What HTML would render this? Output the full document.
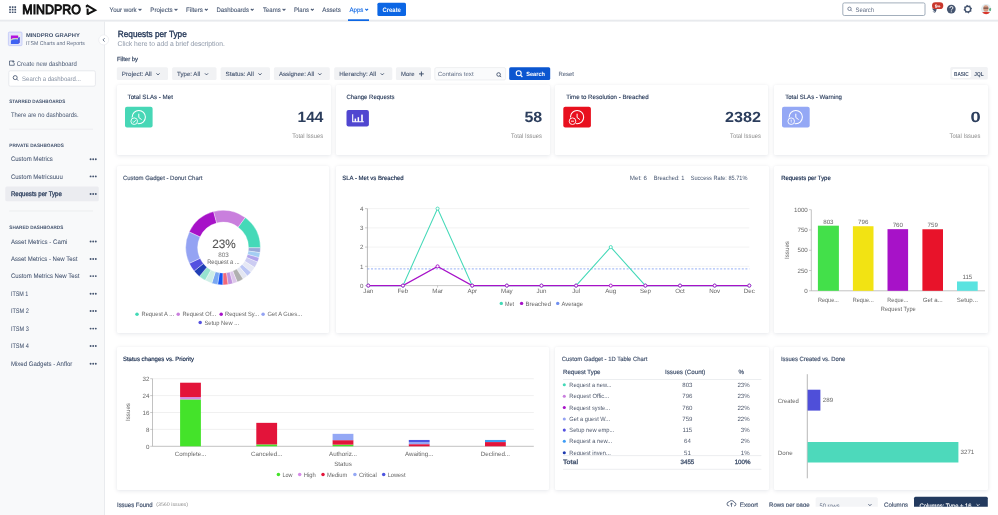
<!DOCTYPE html>
<html><head><meta charset="utf-8"><style>
html,body{margin:0;padding:0;width:998px;height:515px;overflow:hidden;background:#fff;}
#root{position:relative;width:998px;height:515px;overflow:hidden;font-family:"Liberation Sans",sans-serif;}
svg text{font-family:"Liberation Sans",sans-serif;text-rendering:geometricPrecision;}
</style></head><body><div id="root">
<div style="position:absolute;left:0px;top:0px;width:998px;height:20px;background:#fff;"></div><div style="position:absolute;left:0px;top:21px;width:104px;height:494px;background:#f8f9fa;"></div><div style="position:absolute;left:104px;top:21px;width:1px;height:494px;background:#e9ebee;"></div><div style="position:absolute;left:105px;top:21px;width:893px;height:494px;background:#fff;"></div><div style="position:absolute;left:116.6px;top:85.3px;width:214.1px;height:69.7px;background:#fff;border-radius:1px;box-shadow:0 1px 4px rgba(9,30,66,0.10),0 0 1px rgba(9,30,66,0.06);"></div><div style="position:absolute;left:336px;top:85.3px;width:213.5px;height:69.7px;background:#fff;border-radius:1px;box-shadow:0 1px 4px rgba(9,30,66,0.10),0 0 1px rgba(9,30,66,0.06);"></div><div style="position:absolute;left:555px;top:85.3px;width:213.39999999999998px;height:69.7px;background:#fff;border-radius:1px;box-shadow:0 1px 4px rgba(9,30,66,0.10),0 0 1px rgba(9,30,66,0.06);"></div><div style="position:absolute;left:774.1px;top:85.3px;width:213.89999999999998px;height:69.7px;background:#fff;border-radius:1px;box-shadow:0 1px 4px rgba(9,30,66,0.10),0 0 1px rgba(9,30,66,0.06);"></div><div style="position:absolute;left:116.6px;top:166px;width:212.6px;height:167px;background:#fff;border-radius:1px;box-shadow:0 1px 4px rgba(9,30,66,0.10),0 0 1px rgba(9,30,66,0.06);"></div><div style="position:absolute;left:336px;top:166px;width:433px;height:167px;background:#fff;border-radius:1px;box-shadow:0 1px 4px rgba(9,30,66,0.10),0 0 1px rgba(9,30,66,0.06);"></div><div style="position:absolute;left:774.1px;top:166px;width:213.89999999999998px;height:167px;background:#fff;border-radius:1px;box-shadow:0 1px 4px rgba(9,30,66,0.10),0 0 1px rgba(9,30,66,0.06);"></div><div style="position:absolute;left:116.6px;top:346.5px;width:432.9px;height:143.0px;background:#fff;border-radius:1px;box-shadow:0 1px 4px rgba(9,30,66,0.10),0 0 1px rgba(9,30,66,0.06);"></div><div style="position:absolute;left:555px;top:346.5px;width:214px;height:143.0px;background:#fff;border-radius:1px;box-shadow:0 1px 4px rgba(9,30,66,0.10),0 0 1px rgba(9,30,66,0.06);"></div><div style="position:absolute;left:774.1px;top:346.5px;width:213.89999999999998px;height:143.0px;background:#fff;border-radius:1px;box-shadow:0 1px 4px rgba(9,30,66,0.10),0 0 1px rgba(9,30,66,0.06);"></div>
<svg width="998" height="515" viewBox="0 0 998 515" style="position:absolute;left:0;top:0;will-change:transform;">
<defs><linearGradient id="hb" x1="0" y1="0" x2="0" y2="1"><stop offset="0" stop-color="#eef0f2"/><stop offset="0.5" stop-color="#e6e8ec"/><stop offset="1" stop-color="#f2f3f5" stop-opacity="0.6"/></linearGradient></defs><rect x="0" y="19.6" width="998" height="2.4" fill="url(#hb)"/>
<rect x="9.20" y="6.20" width="1.70" height="1.70" fill="#44546f" rx="0.3" />
<rect x="9.20" y="8.80" width="1.70" height="1.70" fill="#44546f" rx="0.3" />
<rect x="9.20" y="11.40" width="1.70" height="1.70" fill="#44546f" rx="0.3" />
<rect x="11.80" y="6.20" width="1.70" height="1.70" fill="#44546f" rx="0.3" />
<rect x="11.80" y="8.80" width="1.70" height="1.70" fill="#44546f" rx="0.3" />
<rect x="11.80" y="11.40" width="1.70" height="1.70" fill="#44546f" rx="0.3" />
<rect x="14.40" y="6.20" width="1.70" height="1.70" fill="#44546f" rx="0.3" />
<rect x="14.40" y="8.80" width="1.70" height="1.70" fill="#44546f" rx="0.3" />
<rect x="14.40" y="11.40" width="1.70" height="1.70" fill="#44546f" rx="0.3" />
<text x="22.30" y="14.00" font-size="13.4" fill="#111" stroke="#111" stroke-width="0.95" textLength="58.60" lengthAdjust="spacingAndGlyphs" >MINDPRO</text>
<path d="M86.6 5.2 L95.2 10.2 L87.6 14.2" fill="none" stroke="#111" stroke-width="2.0" stroke-linejoin="miter"/><path d="M87.6 8.6 V14.8" fill="none" stroke="#111" stroke-width="2.0"/><path d="M86.6 5.2 V7.4" fill="none" stroke="#111" stroke-width="1.6"/>
<text x="109.60" y="11.60" font-size="6.4" fill="#44546f" stroke="#44546f" stroke-width="0.1" textLength="27.10" lengthAdjust="spacingAndGlyphs" >Your work</text>
<path d="M138.60 8.8 L140.00 10.2 L141.40 8.8" fill="none" stroke="#44546f" stroke-width="1.05"/>
<text x="150.30" y="11.60" font-size="6.4" fill="#44546f" stroke="#44546f" stroke-width="0.1" textLength="22.40" lengthAdjust="spacingAndGlyphs" >Projects</text>
<path d="M174.60 8.8 L176.00 10.2 L177.40 8.8" fill="none" stroke="#44546f" stroke-width="1.05"/>
<text x="186.00" y="11.60" font-size="6.4" fill="#44546f" stroke="#44546f" stroke-width="0.1" textLength="17.00" lengthAdjust="spacingAndGlyphs" >Filters</text>
<path d="M204.90 8.8 L206.30 10.2 L207.70 8.8" fill="none" stroke="#44546f" stroke-width="1.05"/>
<text x="216.50" y="11.60" font-size="6.4" fill="#44546f" stroke="#44546f" stroke-width="0.1" textLength="32.40" lengthAdjust="spacingAndGlyphs" >Dashboards</text>
<path d="M250.80 8.8 L252.20 10.2 L253.60 8.8" fill="none" stroke="#44546f" stroke-width="1.05"/>
<text x="263.00" y="11.60" font-size="6.4" fill="#44546f" stroke="#44546f" stroke-width="0.1" textLength="17.70" lengthAdjust="spacingAndGlyphs" >Teams</text>
<path d="M282.60 8.8 L284.00 10.2 L285.40 8.8" fill="none" stroke="#44546f" stroke-width="1.05"/>
<text x="294.00" y="11.60" font-size="6.4" fill="#44546f" stroke="#44546f" stroke-width="0.1" textLength="15.00" lengthAdjust="spacingAndGlyphs" >Plans</text>
<path d="M310.90 8.8 L312.30 10.2 L313.70 8.8" fill="none" stroke="#44546f" stroke-width="1.05"/>
<text x="322.30" y="11.60" font-size="6.4" fill="#44546f" stroke="#44546f" stroke-width="0.1" textLength="18.60" lengthAdjust="spacingAndGlyphs" >Assets</text>
<text x="349.40" y="11.60" font-size="6.4" fill="#0c66e4" stroke="#0c66e4" stroke-width="0.1" textLength="14.00" lengthAdjust="spacingAndGlyphs" >Apps</text>
<path d="M365.30 8.8 L366.70 10.2 L368.10 8.8" fill="none" stroke="#0c66e4" stroke-width="1.05"/>
<rect x="348.00" y="19.30" width="21.00" height="1.70" fill="#0c66e4" rx="0" />
<rect x="377.40" y="2.80" width="28.60" height="13.20" fill="#0c66e4" rx="1.5" />
<text x="391.70" y="11.70" font-size="6.4" fill="#fff" font-weight="bold" text-anchor="middle" textLength="18.40" lengthAdjust="spacingAndGlyphs" >Create</text>
<rect x="842.8" y="2.9" width="82.2" height="12.6" rx="1.5" fill="#fff" stroke="#8c9bab" stroke-width="0.8"/>
<circle cx="849.5" cy="8.8" r="1.7" fill="none" stroke="#626f86" stroke-width="0.8"/><line x1="850.8" y1="10.1" x2="852" y2="11.3" stroke="#626f86" stroke-width="0.8"/>
<text x="855.50" y="11.60" font-size="6.4" fill="#626f86" textLength="18.50" lengthAdjust="spacingAndGlyphs" >Search</text>
<path d="M931.8 8.6 L936.8 9.2 L935.4 12.6 Z" fill="#44546f"/><path d="M933.2 11.4 L934.6 12.8" stroke="#44546f" stroke-width="0.9"/>
<rect x="932" y="2.2" width="11.3" height="6.9" rx="3.45" fill="#c9372c"/>
<text x="937.65" y="7.50" font-size="5.0" fill="#fff" font-weight="bold" text-anchor="middle" textLength="6.00" lengthAdjust="spacingAndGlyphs" >9+</text>
<circle cx="951.3" cy="9.1" r="4.4" fill="#44546f"/>
<path d="M949.9 8.1 Q949.9 6.5 951.4 6.5 Q952.9 6.5 952.9 7.9 Q952.9 8.8 951.9 9.3 Q951.3 9.6 951.3 10.4" fill="none" stroke="#fff" stroke-width="0.95"/><circle cx="951.3" cy="11.8" r="0.55" fill="#fff"/>
<polygon points="972.12,8.24 971.23,9.78 971.46,11.54 969.74,12.01 968.66,13.42 967.12,12.53 965.36,12.76 964.89,11.04 963.48,9.96 964.37,8.42 964.14,6.66 965.86,6.19 966.94,4.78 968.48,5.67 970.24,5.44 970.71,7.16" fill="#44546f"/><circle cx="967.8" cy="9.1" r="2.2" fill="#fff"/>
<defs><clipPath id="av"><circle cx="986.1" cy="9.1" r="5.1"/></clipPath></defs>
<g clip-path="url(#av)"><rect x="980" y="3" width="12" height="12" fill="#e3ecef"/><circle cx="990.5" cy="9.5" r="1.6" fill="#5fb08a"/><path d="M981 15 Q981 11.8 986 11.8 Q991 11.8 991 15 Z" fill="#d9352a"/><ellipse cx="985.9" cy="8.4" rx="2.6" ry="3.2" fill="#d39a82"/><rect x="983.5" y="7.6" width="4.8" height="1" fill="#5a3b33"/></g>
<rect x="8.4" y="32.1" width="13.6" height="13.5" rx="1" fill="#e3e6fb" stroke="#b9c2f7" stroke-width="0.7"/>
<path d="M10.9 35.6 H18.2 V38.3 Q14.5 37.2 10.9 39.2 Z" fill="#b312dc"/>
<path d="M10.9 39.2 Q14.5 37.2 18.2 38.3 V39.6 Q14.5 38.6 10.9 40.6 Z" fill="#c9cbbf"/>
<path d="M10.9 40.6 Q14.5 38.6 18.2 39.6 V44 H10.9 Z" fill="#3f63f2"/>
<path d="M18.2 37.8 L19.7 37 V42.8 L18.2 44 Z" fill="#2f3ad8"/>
<circle cx="19.4" cy="35.1" r="1.1" fill="#f3f1d6"/>
<text x="25.90" y="36.90" font-size="5.5" fill="#44546f" font-weight="bold" textLength="53.90" lengthAdjust="spacingAndGlyphs" >MINDPRO GRAPHY</text>
<text x="25.90" y="45.00" font-size="5.6" fill="#626f86" textLength="58.90" lengthAdjust="spacingAndGlyphs" >ITSM Charts and Reports</text>
<circle cx="103.7" cy="39.9" r="5" fill="#fff" stroke="#e6e8ec" stroke-width="0.6"/>
<path d="M104.6 38.2 L103 39.9 L104.6 41.6" fill="none" stroke="#44546f" stroke-width="0.8"/>
<path d="M13.5 61 L9.5 61 L9.5 65.3 L14.2 65.3 L14.2 63" fill="none" stroke="#44546f" stroke-width="0.75"/><path d="M13.3 60.5 L13.3 62.8 M12.2 61.6 L14.5 61.6" stroke="#44546f" stroke-width="0.7"/>
<text x="16.75" y="65.50" font-size="6.7" fill="#44546f" textLength="60.10" lengthAdjust="spacingAndGlyphs" >Create new dashboard</text>
<rect x="8.8" y="70.8" width="86.6" height="15.4" rx="1.5" fill="#fff" stroke="#dfe1e6" stroke-width="0.7"/>
<circle cx="15.2" cy="77.6" r="2" fill="none" stroke="#44546f" stroke-width="0.85"/><line x1="16.7" y1="79.1" x2="18.1" y2="80.5" stroke="#44546f" stroke-width="0.85"/>
<text x="22.10" y="81.00" font-size="6.6" fill="#8590a2" textLength="58.80" lengthAdjust="spacingAndGlyphs" >Search a dashboard...</text>
<text x="9.30" y="103.40" font-size="4.9" fill="#44546f" font-weight="bold" textLength="55.90" lengthAdjust="spacingAndGlyphs" >STARRED DASHBOARDS</text>
<text x="10.90" y="117.40" font-size="6.6" fill="#44546f" textLength="67.70" lengthAdjust="spacingAndGlyphs" >There are no dashboards.</text>
<line x1="9.30" y1="129.20" x2="93.00" y2="129.20" stroke="#e4e6ea" stroke-width="0.6" />
<text x="9.30" y="146.60" font-size="4.9" fill="#44546f" font-weight="bold" textLength="54.50" lengthAdjust="spacingAndGlyphs" >PRIVATE DASHBOARDS</text>
<rect x="5.30" y="186.60" width="93.50" height="14.60" fill="#ebecf0" rx="1.5" />
<text x="10.90" y="161.30" font-size="6.6" fill="#44546f" stroke="#44546f" stroke-width="0.04" textLength="41.90" lengthAdjust="spacingAndGlyphs" >Custom Metrics</text>
<circle cx="90.60" cy="159.20" r="0.95" fill="#44546f"/>
<circle cx="93.20" cy="159.20" r="0.95" fill="#44546f"/>
<circle cx="95.80" cy="159.20" r="0.95" fill="#44546f"/>
<text x="10.90" y="178.50" font-size="6.6" fill="#44546f" stroke="#44546f" stroke-width="0.04" textLength="51.90" lengthAdjust="spacingAndGlyphs" >Custom Metricsuuu</text>
<circle cx="90.60" cy="176.40" r="0.95" fill="#44546f"/>
<circle cx="93.20" cy="176.40" r="0.95" fill="#44546f"/>
<circle cx="95.80" cy="176.40" r="0.95" fill="#44546f"/>
<text x="10.90" y="196.10" font-size="6.6" fill="#2c3e5d" stroke="#2c3e5d" stroke-width="0.3" textLength="51.00" lengthAdjust="spacingAndGlyphs" >Requests per Type</text>
<circle cx="90.60" cy="194.00" r="0.95" fill="#44546f"/>
<circle cx="93.20" cy="194.00" r="0.95" fill="#44546f"/>
<circle cx="95.80" cy="194.00" r="0.95" fill="#44546f"/>
<line x1="9.30" y1="211.00" x2="93.00" y2="211.00" stroke="#e4e6ea" stroke-width="0.6" />
<text x="9.30" y="228.60" font-size="4.9" fill="#44546f" font-weight="bold" textLength="54.00" lengthAdjust="spacingAndGlyphs" >SHARED DASHBOARDS</text>
<text x="10.90" y="243.60" font-size="6.6" fill="#44546f" stroke="#44546f" stroke-width="0.04" textLength="56.50" lengthAdjust="spacingAndGlyphs" >Asset Metrics - Cami</text>
<circle cx="90.60" cy="241.50" r="0.95" fill="#44546f"/>
<circle cx="93.20" cy="241.50" r="0.95" fill="#44546f"/>
<circle cx="95.80" cy="241.50" r="0.95" fill="#44546f"/>
<text x="10.90" y="261.10" font-size="6.6" fill="#44546f" stroke="#44546f" stroke-width="0.04" textLength="66.50" lengthAdjust="spacingAndGlyphs" >Asset Metrics - New Test</text>
<circle cx="90.60" cy="259.00" r="0.95" fill="#44546f"/>
<circle cx="93.20" cy="259.00" r="0.95" fill="#44546f"/>
<circle cx="95.80" cy="259.00" r="0.95" fill="#44546f"/>
<text x="10.90" y="278.20" font-size="6.6" fill="#44546f" stroke="#44546f" stroke-width="0.04" textLength="68.50" lengthAdjust="spacingAndGlyphs" >Custom Metrics New Test</text>
<circle cx="90.60" cy="276.10" r="0.95" fill="#44546f"/>
<circle cx="93.20" cy="276.10" r="0.95" fill="#44546f"/>
<circle cx="95.80" cy="276.10" r="0.95" fill="#44546f"/>
<text x="10.90" y="295.90" font-size="6.6" fill="#44546f" stroke="#44546f" stroke-width="0.04" textLength="17.50" lengthAdjust="spacingAndGlyphs" >ITSM 1</text>
<circle cx="90.60" cy="293.80" r="0.95" fill="#44546f"/>
<circle cx="93.20" cy="293.80" r="0.95" fill="#44546f"/>
<circle cx="95.80" cy="293.80" r="0.95" fill="#44546f"/>
<text x="10.90" y="313.10" font-size="6.6" fill="#44546f" stroke="#44546f" stroke-width="0.04" textLength="18.00" lengthAdjust="spacingAndGlyphs" >ITSM 2</text>
<circle cx="90.60" cy="311.00" r="0.95" fill="#44546f"/>
<circle cx="93.20" cy="311.00" r="0.95" fill="#44546f"/>
<circle cx="95.80" cy="311.00" r="0.95" fill="#44546f"/>
<text x="10.90" y="330.70" font-size="6.6" fill="#44546f" stroke="#44546f" stroke-width="0.04" textLength="18.00" lengthAdjust="spacingAndGlyphs" >ITSM 3</text>
<circle cx="90.60" cy="328.60" r="0.95" fill="#44546f"/>
<circle cx="93.20" cy="328.60" r="0.95" fill="#44546f"/>
<circle cx="95.80" cy="328.60" r="0.95" fill="#44546f"/>
<text x="10.90" y="348.10" font-size="6.6" fill="#44546f" stroke="#44546f" stroke-width="0.04" textLength="18.00" lengthAdjust="spacingAndGlyphs" >ITSM 4</text>
<circle cx="90.60" cy="346.00" r="0.95" fill="#44546f"/>
<circle cx="93.20" cy="346.00" r="0.95" fill="#44546f"/>
<circle cx="95.80" cy="346.00" r="0.95" fill="#44546f"/>
<text x="10.90" y="365.80" font-size="6.6" fill="#44546f" stroke="#44546f" stroke-width="0.04" textLength="61.50" lengthAdjust="spacingAndGlyphs" >Mixed Gadgets - Anflor</text>
<circle cx="90.60" cy="363.70" r="0.95" fill="#44546f"/>
<circle cx="93.20" cy="363.70" r="0.95" fill="#44546f"/>
<circle cx="95.80" cy="363.70" r="0.95" fill="#44546f"/>
<text x="117.80" y="36.90" font-size="9.0" fill="#253858" stroke="#253858" stroke-width="0.35" textLength="69.00" lengthAdjust="spacingAndGlyphs" >Requests per Type</text>
<text x="117.60" y="45.80" font-size="6.9" fill="#97a0af" stroke="#97a0af" stroke-width="0.05" textLength="107.20" lengthAdjust="spacingAndGlyphs" >Click here to add a brief description.</text>
<text x="117.00" y="61.30" font-size="5.9" fill="#44546f" stroke="#44546f" stroke-width="0.25" textLength="21.00" lengthAdjust="spacingAndGlyphs" >Filter by</text>
<rect x="116.80" y="67.30" width="51.20" height="12.60" fill="#f1f2f4" rx="1.5" />
<text x="121.80" y="76.10" font-size="6.0" fill="#44546f" stroke="#44546f" stroke-width="0.1" textLength="29.90" lengthAdjust="spacingAndGlyphs" >Project: All</text>
<path d="M156.50 73.4 L158.00 74.9 L159.50 73.4" fill="none" stroke="#44546f" stroke-width="1"/>
<rect x="172.10" y="67.30" width="44.40" height="12.60" fill="#f1f2f4" rx="1.5" />
<text x="177.10" y="76.10" font-size="6.0" fill="#44546f" stroke="#44546f" stroke-width="0.1" textLength="23.00" lengthAdjust="spacingAndGlyphs" >Type: All</text>
<path d="M205.00 73.4 L206.50 74.9 L208.00 73.4" fill="none" stroke="#44546f" stroke-width="1"/>
<rect x="220.60" y="67.30" width="49.40" height="12.60" fill="#f1f2f4" rx="1.5" />
<text x="225.60" y="76.10" font-size="6.0" fill="#44546f" stroke="#44546f" stroke-width="0.1" textLength="28.30" lengthAdjust="spacingAndGlyphs" >Status: All</text>
<path d="M258.50 73.4 L260.00 74.9 L261.50 73.4" fill="none" stroke="#44546f" stroke-width="1"/>
<rect x="273.90" y="67.30" width="55.90" height="12.60" fill="#f1f2f4" rx="1.5" />
<text x="278.90" y="76.10" font-size="6.0" fill="#44546f" stroke="#44546f" stroke-width="0.1" textLength="35.30" lengthAdjust="spacingAndGlyphs" >Assignee: All</text>
<path d="M318.30 73.4 L319.80 74.9 L321.30 73.4" fill="none" stroke="#44546f" stroke-width="1"/>
<rect x="334.20" y="67.30" width="58.10" height="12.60" fill="#f1f2f4" rx="1.5" />
<text x="339.20" y="76.10" font-size="6.0" fill="#44546f" stroke="#44546f" stroke-width="0.1" textLength="36.90" lengthAdjust="spacingAndGlyphs" >Hierarchy: All</text>
<path d="M380.80 73.4 L382.30 74.9 L383.80 73.4" fill="none" stroke="#44546f" stroke-width="1"/>
<rect x="395.90" y="67.30" width="35.10" height="12.60" fill="#f1f2f4" rx="1.5" />
<text x="401.00" y="76.10" font-size="6.0" fill="#44546f" stroke="#44546f" stroke-width="0.1" textLength="13.50" lengthAdjust="spacingAndGlyphs" >More</text>
<path d="M421.4 71.5 V76.3 M419 73.9 H423.8" stroke="#44546f" stroke-width="1"/>
<rect x="434.8" y="67.6" width="70.8" height="12.4" rx="1.5" fill="#fafbfc" stroke="#e4e6ea" stroke-width="0.6"/>
<text x="437.80" y="76.00" font-size="6.0" fill="#626f86" textLength="35.80" lengthAdjust="spacingAndGlyphs" >Contains text</text>
<circle cx="498.6" cy="74.5" r="1.8" fill="none" stroke="#44546f" stroke-width="0.9"/><line x1="499.9" y1="75.8" x2="501.2" y2="77.1" stroke="#44546f" stroke-width="0.9"/>
<rect x="509.20" y="67.30" width="41.00" height="12.70" fill="#0b56d0" rx="1.5" />
<circle cx="518.7" cy="73.3" r="2.5" fill="none" stroke="#fff" stroke-width="1.1"/><line x1="520.5" y1="75.1" x2="522.4" y2="77" stroke="#fff" stroke-width="1.2"/>
<text x="526.20" y="76.00" font-size="6.0" fill="#fff" font-weight="bold" textLength="18.80" lengthAdjust="spacingAndGlyphs" >Search</text>
<text x="558.50" y="76.00" font-size="6.0" fill="#626f86" stroke="#626f86" stroke-width="0.1" textLength="15.50" lengthAdjust="spacingAndGlyphs" >Reset</text>
<rect x="950.30" y="67.00" width="37.50" height="12.50" fill="#f1f2f4" rx="1.5" />
<rect x="952.00" y="69.00" width="19.00" height="9.00" fill="#fff" rx="1" style="filter:drop-shadow(0 0.5px 0.6px rgba(9,30,66,0.2))"/>
<text x="954.00" y="75.80" font-size="5.8" fill="#44546f" font-weight="bold" textLength="14.80" lengthAdjust="spacingAndGlyphs" >BASIC</text>
<text x="974.30" y="75.80" font-size="5.8" fill="#44546f" font-weight="bold" textLength="9.30" lengthAdjust="spacingAndGlyphs" >JQL</text>
<text x="127.60" y="99.10" font-size="6.2" fill="#2c3e5d" stroke="#2c3e5d" stroke-width="0.14" textLength="45.30" lengthAdjust="spacingAndGlyphs" >Total SLAs - Met</text>
<text x="323.40" y="122.30" font-size="14.8" fill="#2c3e5d" font-weight="bold" text-anchor="end" textLength="25.80" lengthAdjust="spacingAndGlyphs" >144</text>
<text x="323.10" y="137.70" font-size="6.4" fill="#8c8c8c" text-anchor="end" textLength="30.80" lengthAdjust="spacingAndGlyphs" >Total Issues</text>
<rect x="125.00" y="106.80" width="27.60" height="20.80" fill="#47d7b6" rx="2" />
<circle cx="138.80" cy="117.10" r="6.60" fill="none" stroke="#fff" stroke-width="1.05"/>
<path d="M138.80 113.70 L138.80 117.50 L141.60 119.60" fill="none" stroke="#fff" stroke-width="1.0"/>
<circle cx="134.20" cy="121.20" r="4.20" fill="#47d7b6"/>
<circle cx="134.20" cy="121.20" r="3.30" fill="#47d7b6" stroke="#fff" stroke-width="0.9"/>
<path d="M132.70 121.30 L133.80 122.40 L135.80 120.10" fill="none" stroke="#fff" stroke-width="0.8"/>
<text x="346.40" y="99.10" font-size="6.2" fill="#2c3e5d" stroke="#2c3e5d" stroke-width="0.14" textLength="48.10" lengthAdjust="spacingAndGlyphs" >Change Requests</text>
<text x="542.20" y="122.30" font-size="14.8" fill="#2c3e5d" font-weight="bold" text-anchor="end" textLength="17.80" lengthAdjust="spacingAndGlyphs" >58</text>
<text x="541.90" y="137.70" font-size="6.4" fill="#8c8c8c" text-anchor="end" textLength="30.80" lengthAdjust="spacingAndGlyphs" >Total Issues</text>
<rect x="346.50" y="109.90" width="22.40" height="16.50" fill="#5046d0" rx="2" />
<path d="M352.7 114.3 V121.7 H363.8" fill="none" stroke="#fff" stroke-width="1.1"/>
<rect x="354.60" y="118.60" width="1.50" height="3.10" fill="#fff" rx="0" />
<rect x="357.60" y="117.20" width="1.50" height="4.50" fill="#fff" rx="0" />
<rect x="361.20" y="114.60" width="1.60" height="7.10" fill="#fff" rx="0" />
<text x="566.20" y="99.10" font-size="6.2" fill="#2c3e5d" stroke="#2c3e5d" stroke-width="0.14" textLength="82.50" lengthAdjust="spacingAndGlyphs" >Time to Resolution - Breached</text>
<text x="761.10" y="122.30" font-size="14.8" fill="#2c3e5d" font-weight="bold" text-anchor="end" textLength="36.00" lengthAdjust="spacingAndGlyphs" >2382</text>
<text x="760.80" y="137.70" font-size="6.4" fill="#8c8c8c" text-anchor="end" textLength="30.80" lengthAdjust="spacingAndGlyphs" >Total Issues</text>
<rect x="563.30" y="106.80" width="27.60" height="20.80" fill="#e8101e" rx="2" />
<circle cx="577.10" cy="117.10" r="6.60" fill="none" stroke="#fff" stroke-width="1.05"/>
<path d="M577.10 113.70 L577.10 117.50 L579.90 119.60" fill="none" stroke="#fff" stroke-width="1.0"/>
<circle cx="572.50" cy="121.20" r="4.20" fill="#e8101e"/>
<circle cx="572.50" cy="121.20" r="3.30" fill="#e8101e" stroke="#fff" stroke-width="0.9"/>
<line x1="571.00" y1="121.20" x2="574.00" y2="121.20" stroke="#fff" stroke-width="0.9"/>
<text x="785.20" y="99.10" font-size="6.2" fill="#2c3e5d" stroke="#2c3e5d" stroke-width="0.14" textLength="56.70" lengthAdjust="spacingAndGlyphs" >Total SLAs - Warning</text>
<text x="980.70" y="122.30" font-size="14.8" fill="#2c3e5d" font-weight="bold" text-anchor="end" textLength="10.20" lengthAdjust="spacingAndGlyphs" >0</text>
<text x="980.40" y="137.70" font-size="6.4" fill="#8c8c8c" text-anchor="end" textLength="30.80" lengthAdjust="spacingAndGlyphs" >Total Issues</text>
<rect x="782.00" y="106.80" width="27.70" height="20.80" fill="#94a8f5" rx="2" />
<circle cx="795.80" cy="117.10" r="6.60" fill="none" stroke="#fff" stroke-width="1.05"/>
<path d="M795.80 113.70 L795.80 117.50 L798.60 119.60" fill="none" stroke="#fff" stroke-width="1.0"/>
<circle cx="791.20" cy="121.20" r="4.20" fill="#94a8f5"/>
<circle cx="791.20" cy="121.20" r="3.30" fill="#94a8f5" stroke="#fff" stroke-width="0.9"/>
<line x1="791.20" y1="119.60" x2="791.20" y2="121.80" stroke="#fff" stroke-width="0.8"/><circle cx="791.20" cy="122.70" r="0.4" fill="#fff"/>
<text x="122.90" y="180.30" font-size="6.2" fill="#44546f" stroke="#44546f" stroke-width="0.15" textLength="79.50" lengthAdjust="spacingAndGlyphs" >Custom Gadget - Donut Chart</text>
<path d="M245.18 217.54 A37.3 37.3 0 0 1 260.40 247.80 L248.50 247.73 A25.4 25.4 0 0 0 238.14 227.13Z" fill="#45d9b8" stroke="#fff" stroke-width="0.35"/>
<path d="M260.40 247.80 A37.3 37.3 0 0 1 260.05 252.66 L248.26 251.05 A25.4 25.4 0 0 0 248.50 247.73Z" fill="#98a8d8" stroke="#fff" stroke-width="0.35"/>
<path d="M260.05 252.66 A37.3 37.3 0 0 1 259.03 257.63 L247.56 254.43 A25.4 25.4 0 0 0 248.26 251.05Z" fill="#a3cdf3" stroke="#fff" stroke-width="0.35"/>
<path d="M259.03 257.63 A37.3 37.3 0 0 1 257.49 262.05 L246.52 257.44 A25.4 25.4 0 0 0 247.56 254.43Z" fill="#b0a3ec" stroke="#fff" stroke-width="0.35"/>
<path d="M257.49 262.05 A37.3 37.3 0 0 1 254.63 267.53 L244.57 261.17 A25.4 25.4 0 0 0 246.52 257.44Z" fill="#ccccf2" stroke="#fff" stroke-width="0.35"/>
<path d="M254.63 267.53 A37.3 37.3 0 0 1 250.99 272.36 L242.09 264.46 A25.4 25.4 0 0 0 244.57 261.17Z" fill="#e6e8f5" stroke="#fff" stroke-width="0.35"/>
<path d="M250.99 272.36 A37.3 37.3 0 0 1 247.27 276.01 L239.56 266.94 A25.4 25.4 0 0 0 242.09 264.46Z" fill="#bcc6f5" stroke="#fff" stroke-width="0.35"/>
<path d="M247.27 276.01 A37.3 37.3 0 0 1 243.09 279.09 L236.71 269.05 A25.4 25.4 0 0 0 239.56 266.94Z" fill="#e3e6f2" stroke="#fff" stroke-width="0.35"/>
<path d="M243.09 279.09 A37.3 37.3 0 0 1 237.25 282.11 L232.74 271.10 A25.4 25.4 0 0 0 236.71 269.05Z" fill="#b0b0b0" stroke="#fff" stroke-width="0.35"/>
<path d="M237.25 282.11 A37.3 37.3 0 0 1 232.88 283.60 L229.76 272.11 A25.4 25.4 0 0 0 232.74 271.10Z" fill="#dcc6ea" stroke="#fff" stroke-width="0.35"/>
<path d="M232.88 283.60 A37.3 37.3 0 0 1 227.97 284.58 L226.42 272.78 A25.4 25.4 0 0 0 229.76 272.11Z" fill="#c092dd" stroke="#fff" stroke-width="0.35"/>
<path d="M227.97 284.58 A37.3 37.3 0 0 1 222.77 284.90 L222.88 273.00 A25.4 25.4 0 0 0 226.42 272.78Z" fill="#f2697b" stroke="#fff" stroke-width="0.35"/>
<path d="M222.77 284.90 A37.3 37.3 0 0 1 217.65 284.50 L219.39 272.73 A25.4 25.4 0 0 0 222.88 273.00Z" fill="#1454f5" stroke="#fff" stroke-width="0.35"/>
<path d="M217.65 284.50 A37.3 37.3 0 0 1 211.76 283.13 L215.38 271.80 A25.4 25.4 0 0 0 219.39 272.73Z" fill="#7aa8f2" stroke="#fff" stroke-width="0.35"/>
<path d="M211.76 283.13 A37.3 37.3 0 0 1 205.19 280.32 L210.90 269.88 A25.4 25.4 0 0 0 215.38 271.80Z" fill="#cdeee6" stroke="#fff" stroke-width="0.35"/>
<path d="M205.19 280.32 A37.3 37.3 0 0 1 199.37 276.38 L206.94 267.20 A25.4 25.4 0 0 0 210.90 269.88Z" fill="#97e3cf" stroke="#fff" stroke-width="0.35"/>
<path d="M199.37 276.38 A37.3 37.3 0 0 1 194.11 271.07 L203.36 263.58 A25.4 25.4 0 0 0 206.94 267.20Z" fill="#213fb5" stroke="#fff" stroke-width="0.35"/>
<path d="M194.11 271.07 A37.3 37.3 0 0 1 189.29 263.36 L200.08 258.33 A25.4 25.4 0 0 0 203.36 263.58Z" fill="#5552e0" stroke="#fff" stroke-width="0.35"/>
<path d="M189.29 263.36 A37.3 37.3 0 0 1 189.29 231.84 L200.08 236.87 A25.4 25.4 0 0 0 200.08 258.33Z" fill="#94a3f3" stroke="#fff" stroke-width="0.35"/>
<path d="M189.29 231.84 A37.3 37.3 0 0 1 213.63 211.52 L216.65 223.03 A25.4 25.4 0 0 0 200.08 236.87Z" fill="#a712c8" stroke="#fff" stroke-width="0.35"/>
<path d="M213.63 211.52 A37.3 37.3 0 0 1 245.18 217.54 L238.14 227.13 A25.4 25.4 0 0 0 216.65 223.03Z" fill="#c97fdd" stroke="#fff" stroke-width="0.35"/>
<text x="224.00" y="247.80" font-size="12.1" fill="#555" stroke="#555" stroke-width="0.12" text-anchor="middle" textLength="23.60" lengthAdjust="spacingAndGlyphs" >23%</text>
<text x="223.40" y="256.80" font-size="6.4" fill="#777" text-anchor="middle" textLength="10.50" lengthAdjust="spacingAndGlyphs" >803</text>
<text x="223.40" y="263.80" font-size="6.4" fill="#666" text-anchor="middle" textLength="32.50" lengthAdjust="spacingAndGlyphs" >Request a ...</text>
<circle cx="137" cy="314.2" r="1.75" fill="#42d9b6"/>
<text x="141.50" y="316.40" font-size="6.2" fill="#666" textLength="32.50" lengthAdjust="spacingAndGlyphs" >Request A ...</text>
<circle cx="178.2" cy="314.2" r="1.75" fill="#c97fdd"/>
<text x="182.50" y="316.40" font-size="6.2" fill="#666" textLength="33.50" lengthAdjust="spacingAndGlyphs" >Request Of...</text>
<circle cx="221.2" cy="314.2" r="1.75" fill="#a712c8"/>
<text x="225.00" y="316.40" font-size="6.2" fill="#666" textLength="34.00" lengthAdjust="spacingAndGlyphs" >Request Sy...</text>
<circle cx="263.1" cy="314.2" r="1.75" fill="#94a3f3"/>
<text x="267.50" y="316.40" font-size="6.2" fill="#666" textLength="34.50" lengthAdjust="spacingAndGlyphs" >Get A Gues...</text>
<circle cx="200.2" cy="322.6" r="1.75" fill="#5552e0"/>
<text x="204.50" y="324.80" font-size="6.2" fill="#666" textLength="34.50" lengthAdjust="spacingAndGlyphs" >Setup New ...</text>
<text x="342.20" y="180.30" font-size="6.2" fill="#172b4d" stroke="#172b4d" stroke-width="0.16" textLength="61.50" lengthAdjust="spacingAndGlyphs" >SLA - Met vs Breached</text>
<text x="629.80" y="180.30" font-size="6.2" fill="#44546f" textLength="17.20" lengthAdjust="spacingAndGlyphs" >Met: 6</text>
<text x="653.70" y="180.30" font-size="6.2" fill="#44546f" textLength="30.70" lengthAdjust="spacingAndGlyphs" >Breached: 1</text>
<text x="690.70" y="180.30" font-size="6.2" fill="#44546f" textLength="56.80" lengthAdjust="spacingAndGlyphs" >Success Rate: 85.71%</text>
<line x1="367.40" y1="285.60" x2="749.30" y2="285.60" stroke="#999" stroke-width="0.5" />
<line x1="365.00" y1="285.60" x2="367.40" y2="285.60" stroke="#999" stroke-width="0.5" />
<text x="363.50" y="287.80" font-size="6.2" fill="#666" text-anchor="end" >0</text>
<line x1="367.40" y1="266.35" x2="749.30" y2="266.35" stroke="#e6e6e6" stroke-width="0.5" />
<line x1="365.00" y1="266.35" x2="367.40" y2="266.35" stroke="#999" stroke-width="0.5" />
<text x="363.50" y="268.55" font-size="6.2" fill="#666" text-anchor="end" >1</text>
<line x1="367.40" y1="247.10" x2="749.30" y2="247.10" stroke="#e6e6e6" stroke-width="0.5" />
<line x1="365.00" y1="247.10" x2="367.40" y2="247.10" stroke="#999" stroke-width="0.5" />
<text x="363.50" y="249.30" font-size="6.2" fill="#666" text-anchor="end" >2</text>
<line x1="367.40" y1="227.85" x2="749.30" y2="227.85" stroke="#e6e6e6" stroke-width="0.5" />
<line x1="365.00" y1="227.85" x2="367.40" y2="227.85" stroke="#999" stroke-width="0.5" />
<text x="363.50" y="230.05" font-size="6.2" fill="#666" text-anchor="end" >3</text>
<line x1="367.40" y1="208.60" x2="749.30" y2="208.60" stroke="#e6e6e6" stroke-width="0.5" />
<line x1="365.00" y1="208.60" x2="367.40" y2="208.60" stroke="#999" stroke-width="0.5" />
<text x="363.50" y="210.80" font-size="6.2" fill="#666" text-anchor="end" >4</text>
<line x1="367.40" y1="208.60" x2="367.40" y2="285.60" stroke="#999" stroke-width="0.7" />
<line x1="368.30" y1="285.60" x2="368.30" y2="287.60" stroke="#999" stroke-width="0.5" />
<text x="368.30" y="293.40" font-size="6.2" fill="#666" text-anchor="middle" >Jan</text>
<line x1="402.94" y1="285.60" x2="402.94" y2="287.60" stroke="#999" stroke-width="0.5" />
<text x="402.94" y="293.40" font-size="6.2" fill="#666" text-anchor="middle" >Feb</text>
<line x1="437.57" y1="285.60" x2="437.57" y2="287.60" stroke="#999" stroke-width="0.5" />
<text x="437.57" y="293.40" font-size="6.2" fill="#666" text-anchor="middle" >Mar</text>
<line x1="472.21" y1="285.60" x2="472.21" y2="287.60" stroke="#999" stroke-width="0.5" />
<text x="472.21" y="293.40" font-size="6.2" fill="#666" text-anchor="middle" >Apr</text>
<line x1="506.85" y1="285.60" x2="506.85" y2="287.60" stroke="#999" stroke-width="0.5" />
<text x="506.85" y="293.40" font-size="6.2" fill="#666" text-anchor="middle" >May</text>
<line x1="541.48" y1="285.60" x2="541.48" y2="287.60" stroke="#999" stroke-width="0.5" />
<text x="541.48" y="293.40" font-size="6.2" fill="#666" text-anchor="middle" >Jun</text>
<line x1="576.12" y1="285.60" x2="576.12" y2="287.60" stroke="#999" stroke-width="0.5" />
<text x="576.12" y="293.40" font-size="6.2" fill="#666" text-anchor="middle" >Jul</text>
<line x1="610.75" y1="285.60" x2="610.75" y2="287.60" stroke="#999" stroke-width="0.5" />
<text x="610.75" y="293.40" font-size="6.2" fill="#666" text-anchor="middle" >Aug</text>
<line x1="645.39" y1="285.60" x2="645.39" y2="287.60" stroke="#999" stroke-width="0.5" />
<text x="645.39" y="293.40" font-size="6.2" fill="#666" text-anchor="middle" >Sep</text>
<line x1="680.03" y1="285.60" x2="680.03" y2="287.60" stroke="#999" stroke-width="0.5" />
<text x="680.03" y="293.40" font-size="6.2" fill="#666" text-anchor="middle" >Oct</text>
<line x1="714.66" y1="285.60" x2="714.66" y2="287.60" stroke="#999" stroke-width="0.5" />
<text x="714.66" y="293.40" font-size="6.2" fill="#666" text-anchor="middle" >Nov</text>
<line x1="749.30" y1="285.60" x2="749.30" y2="287.60" stroke="#999" stroke-width="0.5" />
<text x="749.30" y="293.40" font-size="6.2" fill="#666" text-anchor="middle" >Dec</text>
<line x1="367.40" y1="268.90" x2="749.30" y2="268.90" stroke="#7b9cf2" stroke-width="0.8" stroke-dasharray="2,1.6"/>
<polyline points="368.30,285.60 402.94,285.60 437.57,208.60 472.21,285.60 506.85,285.60 541.48,285.60 576.12,285.60 610.75,247.10 645.39,285.60 680.03,285.60 714.66,285.60 749.30,285.60" fill="none" stroke="#45d9b8" stroke-width="1.05"/>
<circle cx="368.30" cy="285.60" r="1.55" fill="#fff" stroke="#45d9b8" stroke-width="0.9"/>
<circle cx="402.94" cy="285.60" r="1.55" fill="#fff" stroke="#45d9b8" stroke-width="0.9"/>
<circle cx="437.57" cy="208.60" r="1.55" fill="#fff" stroke="#45d9b8" stroke-width="0.9"/>
<circle cx="472.21" cy="285.60" r="1.55" fill="#fff" stroke="#45d9b8" stroke-width="0.9"/>
<circle cx="506.85" cy="285.60" r="1.55" fill="#fff" stroke="#45d9b8" stroke-width="0.9"/>
<circle cx="541.48" cy="285.60" r="1.55" fill="#fff" stroke="#45d9b8" stroke-width="0.9"/>
<circle cx="576.12" cy="285.60" r="1.55" fill="#fff" stroke="#45d9b8" stroke-width="0.9"/>
<circle cx="610.75" cy="247.10" r="1.55" fill="#fff" stroke="#45d9b8" stroke-width="0.9"/>
<circle cx="645.39" cy="285.60" r="1.55" fill="#fff" stroke="#45d9b8" stroke-width="0.9"/>
<circle cx="680.03" cy="285.60" r="1.55" fill="#fff" stroke="#45d9b8" stroke-width="0.9"/>
<circle cx="714.66" cy="285.60" r="1.55" fill="#fff" stroke="#45d9b8" stroke-width="0.9"/>
<circle cx="749.30" cy="285.60" r="1.55" fill="#fff" stroke="#45d9b8" stroke-width="0.9"/>
<polyline points="368.30,285.60 402.94,285.60 437.57,266.35 472.21,285.60 506.85,285.60 541.48,285.60 576.12,285.60 610.75,285.60 645.39,285.60 680.03,285.60 714.66,285.60 749.30,285.60" fill="none" stroke="#a712c8" stroke-width="1.25"/>
<circle cx="368.30" cy="285.60" r="1.55" fill="#fff" stroke="#a712c8" stroke-width="0.95"/>
<circle cx="402.94" cy="285.60" r="1.55" fill="#fff" stroke="#a712c8" stroke-width="0.95"/>
<circle cx="437.57" cy="266.35" r="1.55" fill="#fff" stroke="#a712c8" stroke-width="0.95"/>
<circle cx="472.21" cy="285.60" r="1.55" fill="#fff" stroke="#a712c8" stroke-width="0.95"/>
<circle cx="506.85" cy="285.60" r="1.55" fill="#fff" stroke="#a712c8" stroke-width="0.95"/>
<circle cx="541.48" cy="285.60" r="1.55" fill="#fff" stroke="#a712c8" stroke-width="0.95"/>
<circle cx="576.12" cy="285.60" r="1.55" fill="#fff" stroke="#a712c8" stroke-width="0.95"/>
<circle cx="610.75" cy="285.60" r="1.55" fill="#fff" stroke="#a712c8" stroke-width="0.95"/>
<circle cx="645.39" cy="285.60" r="1.55" fill="#fff" stroke="#a712c8" stroke-width="0.95"/>
<circle cx="680.03" cy="285.60" r="1.55" fill="#fff" stroke="#a712c8" stroke-width="0.95"/>
<circle cx="714.66" cy="285.60" r="1.55" fill="#fff" stroke="#a712c8" stroke-width="0.95"/>
<circle cx="749.30" cy="285.60" r="1.55" fill="#fff" stroke="#a712c8" stroke-width="0.95"/>
<circle cx="501.3" cy="303.4" r="1.7" fill="#42d9b6"/>
<text x="505.00" y="305.60" font-size="6.2" fill="#666" textLength="9.00" lengthAdjust="spacingAndGlyphs" >Met</text>
<circle cx="521.6" cy="303.4" r="1.7" fill="#a712c8"/>
<text x="525.50" y="305.60" font-size="6.2" fill="#666" textLength="25.50" lengthAdjust="spacingAndGlyphs" >Breached</text>
<circle cx="557.7" cy="303.4" r="1.7" fill="#6f8ff0"/>
<text x="561.50" y="305.60" font-size="6.2" fill="#666" textLength="21.50" lengthAdjust="spacingAndGlyphs" >Average</text>
<text x="781.20" y="180.00" font-size="6.2" fill="#172b4d" stroke="#172b4d" stroke-width="0.18" textLength="49.50" lengthAdjust="spacingAndGlyphs" >Requests per Type</text>
<line x1="809.00" y1="290.80" x2="811.30" y2="290.80" stroke="#999" stroke-width="0.5" />
<text x="807.80" y="293.00" font-size="6.2" fill="#666" text-anchor="end" >0</text>
<line x1="809.00" y1="270.52" x2="811.30" y2="270.52" stroke="#999" stroke-width="0.5" />
<text x="807.80" y="272.72" font-size="6.2" fill="#666" text-anchor="end" >250</text>
<line x1="809.00" y1="250.25" x2="811.30" y2="250.25" stroke="#999" stroke-width="0.5" />
<text x="807.80" y="252.45" font-size="6.2" fill="#666" text-anchor="end" >500</text>
<line x1="809.00" y1="229.97" x2="811.30" y2="229.97" stroke="#999" stroke-width="0.5" />
<text x="807.80" y="232.17" font-size="6.2" fill="#666" text-anchor="end" >750</text>
<line x1="809.00" y1="209.70" x2="811.30" y2="209.70" stroke="#999" stroke-width="0.5" />
<text x="807.80" y="211.90" font-size="6.2" fill="#666" text-anchor="end" >1000</text>
<line x1="811.30" y1="209.70" x2="811.30" y2="290.80" stroke="#999" stroke-width="0.6" />
<line x1="811.30" y1="290.80" x2="985.00" y2="290.80" stroke="#999" stroke-width="0.6" />
<rect x="817.90" y="225.68" width="21.00" height="65.12" fill="#43e04a" rx="0" />
<text x="828.40" y="223.68" font-size="6.2" fill="#666" text-anchor="middle" >803</text>
<text x="828.40" y="302.30" font-size="6.1" fill="#666" text-anchor="middle" textLength="21.00" lengthAdjust="spacingAndGlyphs" >Reque...</text>
<rect x="852.90" y="226.24" width="20.60" height="64.56" fill="#f2e313" rx="0" />
<text x="863.20" y="224.24" font-size="6.2" fill="#666" text-anchor="middle" >796</text>
<text x="863.20" y="302.30" font-size="6.1" fill="#666" text-anchor="middle" textLength="21.00" lengthAdjust="spacingAndGlyphs" >Reque...</text>
<rect x="887.50" y="229.16" width="20.60" height="61.64" fill="#a712c8" rx="0" />
<text x="897.80" y="227.16" font-size="6.2" fill="#666" text-anchor="middle" >760</text>
<text x="897.80" y="302.30" font-size="6.1" fill="#666" text-anchor="middle" textLength="21.00" lengthAdjust="spacingAndGlyphs" >Reque...</text>
<rect x="922.40" y="229.25" width="20.60" height="61.55" fill="#e8132a" rx="0" />
<text x="932.70" y="227.25" font-size="6.2" fill="#666" text-anchor="middle" >759</text>
<text x="932.70" y="302.30" font-size="6.1" fill="#666" text-anchor="middle" >Get a...</text>
<rect x="957.00" y="281.47" width="20.70" height="9.33" fill="#5ae3e0" rx="0" />
<text x="967.35" y="279.47" font-size="6.2" fill="#666" text-anchor="middle" >115</text>
<text x="967.35" y="302.30" font-size="6.1" fill="#666" text-anchor="middle" >Setup...</text>
<text x="898.30" y="311.20" font-size="6.2" fill="#666" text-anchor="middle" textLength="35.00" lengthAdjust="spacingAndGlyphs" >Request Type</text>
<text x="788.60" y="250.00" font-size="6.2" fill="#666" text-anchor="middle" transform="rotate(-90 788.6 250)">Issues</text>
<text x="122.90" y="360.70" font-size="6.2" fill="#172b4d" stroke="#172b4d" stroke-width="0.18" textLength="71.00" lengthAdjust="spacingAndGlyphs" >Status changes vs. Priority</text>
<line x1="152.50" y1="446.30" x2="533.80" y2="446.30" stroke="#999" stroke-width="0.6" />
<line x1="150.20" y1="446.30" x2="152.50" y2="446.30" stroke="#999" stroke-width="0.5" />
<text x="149.50" y="448.50" font-size="6.2" fill="#666" text-anchor="end" >0</text>
<line x1="152.50" y1="429.40" x2="533.80" y2="429.40" stroke="#e6e6e6" stroke-width="0.6" />
<line x1="150.20" y1="429.40" x2="152.50" y2="429.40" stroke="#999" stroke-width="0.5" />
<text x="149.50" y="431.60" font-size="6.2" fill="#666" text-anchor="end" >8</text>
<line x1="152.50" y1="412.50" x2="533.80" y2="412.50" stroke="#e6e6e6" stroke-width="0.6" />
<line x1="150.20" y1="412.50" x2="152.50" y2="412.50" stroke="#999" stroke-width="0.5" />
<text x="149.50" y="414.70" font-size="6.2" fill="#666" text-anchor="end" >16</text>
<line x1="152.50" y1="395.60" x2="533.80" y2="395.60" stroke="#e6e6e6" stroke-width="0.6" />
<line x1="150.20" y1="395.60" x2="152.50" y2="395.60" stroke="#999" stroke-width="0.5" />
<text x="149.50" y="397.80" font-size="6.2" fill="#666" text-anchor="end" >24</text>
<line x1="152.50" y1="378.70" x2="533.80" y2="378.70" stroke="#e6e6e6" stroke-width="0.6" />
<line x1="150.20" y1="378.70" x2="152.50" y2="378.70" stroke="#999" stroke-width="0.5" />
<text x="149.50" y="380.90" font-size="6.2" fill="#666" text-anchor="end" >32</text>
<line x1="152.50" y1="378.70" x2="152.50" y2="446.30" stroke="#999" stroke-width="0.6" />
<rect x="180.10" y="399.40" width="20.80" height="46.90" fill="#44e32a" rx="0" />
<rect x="180.10" y="397.08" width="20.80" height="2.32" fill="#d68ae8" rx="0" />
<rect x="180.10" y="382.71" width="20.80" height="14.37" fill="#e3143a" rx="0" />
<text x="190.50" y="455.80" font-size="6.2" fill="#666" text-anchor="middle" >Complete...</text>
<rect x="256.30" y="444.40" width="20.80" height="1.90" fill="#44e32a" rx="0" />
<rect x="256.30" y="422.85" width="20.80" height="21.55" fill="#e3143a" rx="0" />
<text x="266.70" y="455.80" font-size="6.2" fill="#666" text-anchor="middle" >Canceled...</text>
<rect x="332.60" y="444.61" width="20.80" height="1.69" fill="#44e32a" rx="0" />
<rect x="332.60" y="440.17" width="20.80" height="4.44" fill="#e3143a" rx="0" />
<rect x="332.60" y="433.84" width="20.80" height="6.34" fill="#94a8f5" rx="0" />
<text x="343.00" y="455.80" font-size="6.2" fill="#666" text-anchor="middle" >Authoriz...</text>
<rect x="408.80" y="444.19" width="20.80" height="2.11" fill="#e3143a" rx="0" />
<rect x="408.80" y="442.07" width="20.80" height="2.11" fill="#94a8f5" rx="0" />
<rect x="408.80" y="439.96" width="20.80" height="2.11" fill="#4d55e0" rx="0" />
<text x="419.20" y="455.80" font-size="6.2" fill="#666" text-anchor="middle" >Awaiting...</text>
<rect x="485.00" y="442.07" width="20.80" height="4.23" fill="#e3143a" rx="0" />
<rect x="485.00" y="439.96" width="20.80" height="2.11" fill="#3d9cf0" rx="0" />
<text x="495.40" y="455.80" font-size="6.2" fill="#666" text-anchor="middle" >Declined...</text>
<text x="343.00" y="465.70" font-size="6.2" fill="#666" text-anchor="middle" >Status</text>
<text x="130.20" y="412.00" font-size="6.2" fill="#666" text-anchor="middle" transform="rotate(-90 130.2 412)">Issues</text>
<circle cx="278.4" cy="474.5" r="1.75" fill="#44e32a"/>
<text x="282.40" y="476.70" font-size="6.2" fill="#666" textLength="10.10" lengthAdjust="spacingAndGlyphs" >Low</text>
<circle cx="299.7" cy="474.5" r="1.75" fill="#d68ae8"/>
<text x="303.80" y="476.70" font-size="6.2" fill="#666" textLength="12.00" lengthAdjust="spacingAndGlyphs" >High</text>
<circle cx="323" cy="474.5" r="1.75" fill="#e3143a"/>
<text x="327.00" y="476.70" font-size="6.2" fill="#666" textLength="20.30" lengthAdjust="spacingAndGlyphs" >Medium</text>
<circle cx="354.9" cy="474.5" r="1.75" fill="#94a8f5"/>
<text x="358.90" y="476.70" font-size="6.2" fill="#666" textLength="17.80" lengthAdjust="spacingAndGlyphs" >Critical</text>
<circle cx="383.7" cy="474.5" r="1.75" fill="#4d55e0"/>
<text x="387.70" y="476.70" font-size="6.2" fill="#666" textLength="17.80" lengthAdjust="spacingAndGlyphs" >Lowest</text>
<text x="561.80" y="360.90" font-size="6.2" fill="#44546f" stroke="#44546f" stroke-width="0.15" textLength="85.50" lengthAdjust="spacingAndGlyphs" >Custom Gadget - 1D Table Chart</text>
<text x="563.00" y="374.20" font-size="6.2" fill="#44546f" stroke="#44546f" stroke-width="0.2" textLength="37.50" lengthAdjust="spacingAndGlyphs" >Request Type</text>
<text x="665.00" y="374.20" font-size="6.2" fill="#44546f" stroke="#44546f" stroke-width="0.2" textLength="40.40" lengthAdjust="spacingAndGlyphs" >Issues (Count)</text>
<text x="741.20" y="374.20" font-size="6.2" fill="#44546f" stroke="#44546f" stroke-width="0.2" text-anchor="middle" >%</text>
<line x1="563.00" y1="379.50" x2="761.40" y2="379.50" stroke="#e4e6ea" stroke-width="0.7" />
<circle cx="564.3" cy="384.8" r="1.55" fill="#45d9b8"/>
<text x="569.30" y="386.90" font-size="6.1" fill="#505a6e" textLength="42.10" lengthAdjust="spacingAndGlyphs" >Request a new...</text>
<text x="687.40" y="386.90" font-size="6.1" fill="#505a6e" text-anchor="middle" >803</text>
<text x="749.60" y="386.90" font-size="6.1" fill="#505a6e" text-anchor="end" >23%</text>
<circle cx="564.3" cy="396.3" r="1.55" fill="#c97fdd"/>
<text x="569.30" y="398.40" font-size="6.1" fill="#505a6e" textLength="39.80" lengthAdjust="spacingAndGlyphs" >Request Offic...</text>
<text x="687.40" y="398.40" font-size="6.1" fill="#505a6e" text-anchor="middle" >796</text>
<text x="749.60" y="398.40" font-size="6.1" fill="#505a6e" text-anchor="end" >23%</text>
<circle cx="564.3" cy="407.5" r="1.55" fill="#a712c8"/>
<text x="569.30" y="409.60" font-size="6.1" fill="#505a6e" textLength="40.70" lengthAdjust="spacingAndGlyphs" >Request syste...</text>
<text x="687.40" y="409.60" font-size="6.1" fill="#505a6e" text-anchor="middle" >760</text>
<text x="749.60" y="409.60" font-size="6.1" fill="#505a6e" text-anchor="end" >22%</text>
<circle cx="564.3" cy="419" r="1.55" fill="#94a3f3"/>
<text x="569.30" y="421.10" font-size="6.1" fill="#505a6e" textLength="40.80" lengthAdjust="spacingAndGlyphs" >Get a guest W...</text>
<text x="687.40" y="421.10" font-size="6.1" fill="#505a6e" text-anchor="middle" >759</text>
<text x="749.60" y="421.10" font-size="6.1" fill="#505a6e" text-anchor="end" >22%</text>
<circle cx="564.3" cy="430.1" r="1.55" fill="#5552e0"/>
<text x="569.30" y="432.20" font-size="6.1" fill="#505a6e" textLength="45.00" lengthAdjust="spacingAndGlyphs" >Setup new emp...</text>
<text x="687.40" y="432.20" font-size="6.1" fill="#505a6e" text-anchor="middle" >115</text>
<text x="749.60" y="432.20" font-size="6.1" fill="#505a6e" text-anchor="end" >3%</text>
<circle cx="564.3" cy="441.3" r="1.55" fill="#3d9cf5"/>
<text x="569.30" y="443.40" font-size="6.1" fill="#505a6e" textLength="42.70" lengthAdjust="spacingAndGlyphs" >Request a new...</text>
<text x="687.40" y="443.40" font-size="6.1" fill="#505a6e" text-anchor="middle" >64</text>
<text x="749.60" y="443.40" font-size="6.1" fill="#505a6e" text-anchor="end" >2%</text>
<circle cx="564.3" cy="452.8" r="1.55" fill="#1e3ab0"/>
<text x="569.30" y="454.90" font-size="6.1" fill="#505a6e" textLength="41.50" lengthAdjust="spacingAndGlyphs" >Request inven...</text>
<text x="687.40" y="454.90" font-size="6.1" fill="#505a6e" text-anchor="middle" >51</text>
<text x="749.60" y="454.90" font-size="6.1" fill="#505a6e" text-anchor="end" >1%</text>
<rect x="556.00" y="455.40" width="210.00" height="13.50" fill="#fff" rx="0" />
<line x1="563.00" y1="455.60" x2="761.40" y2="455.60" stroke="#e4e6ea" stroke-width="0.7" />
<text x="563.00" y="464.40" font-size="6.2" fill="#44546f" stroke="#44546f" stroke-width="0.3" textLength="15.00" lengthAdjust="spacingAndGlyphs" >Total</text>
<text x="687.40" y="464.40" font-size="6.2" fill="#44546f" stroke="#44546f" stroke-width="0.3" text-anchor="middle" >3455</text>
<text x="750.50" y="464.40" font-size="6.2" fill="#44546f" stroke="#44546f" stroke-width="0.3" text-anchor="end" >100%</text>
<line x1="563.00" y1="469.30" x2="761.40" y2="469.30" stroke="#e4e6ea" stroke-width="0.7" />
<text x="780.90" y="360.90" font-size="6.2" fill="#44546f" stroke="#44546f" stroke-width="0.18" textLength="64.50" lengthAdjust="spacingAndGlyphs" >Issues Created vs. Done</text>
<line x1="807.30" y1="374.20" x2="807.30" y2="478.30" stroke="#999" stroke-width="0.7" />
<text x="777.80" y="402.50" font-size="6.2" fill="#666" textLength="21.00" lengthAdjust="spacingAndGlyphs" >Created</text>
<rect x="807.60" y="389.70" width="12.80" height="20.90" fill="#4f4fd9" rx="0" />
<text x="822.80" y="402.20" font-size="6.2" fill="#666" >289</text>
<text x="777.80" y="454.70" font-size="6.2" fill="#666" >Done</text>
<rect x="807.60" y="442.00" width="150.80" height="20.50" fill="#4dd9bb" rx="0" />
<text x="960.50" y="454.20" font-size="6.2" fill="#666" >3271</text>
<text x="117.00" y="506.60" font-size="6.3" fill="#44546f" stroke="#44546f" stroke-width="0.2" textLength="35.60" lengthAdjust="spacingAndGlyphs" >Issues Found</text>
<text x="156.20" y="506.40" font-size="5.2" fill="#8c8c8c" textLength="31.80" lengthAdjust="spacingAndGlyphs" >(3560 issues)</text>
<defs><clipPath id="botclip"><rect x="700" y="490" width="298" height="16.8"/></clipPath></defs>
<g clip-path="url(#botclip)">
<path d="M729.3 506 Q727 506 727 504 Q727 502 729 501.9 Q729.6 500.6 731.6 500.6 Q733.8 500.6 734.2 502.4 Q735.9 502.6 735.9 504.3 Q735.9 506 734 506" fill="none" stroke="#44546f" stroke-width="0.85"/><path d="M731.5 503 V507 M730.2 504.3 L731.5 503 L732.8 504.3" fill="none" stroke="#44546f" stroke-width="0.8"/>
<text x="739.80" y="507.20" font-size="6.4" fill="#44546f" stroke="#44546f" stroke-width="0.2" textLength="18.30" lengthAdjust="spacingAndGlyphs" >Export</text>
<text x="769.10" y="507.20" font-size="6.4" fill="#44546f" stroke="#44546f" stroke-width="0.2" textLength="40.60" lengthAdjust="spacingAndGlyphs" >Rows per page</text>
<rect x="815.60" y="497.20" width="62.20" height="20.00" fill="#f4f5f7" rx="1.5" />
<text x="819.60" y="507.90" font-size="6.4" fill="#626f86" textLength="20.00" lengthAdjust="spacingAndGlyphs" >50 rows</text>
<path d="M868.4 504.2 L869.9 505.7 L871.4 504.2" fill="none" stroke="#44546f" stroke-width="0.9"/>
<text x="884.10" y="506.80" font-size="6.4" fill="#44546f" stroke="#44546f" stroke-width="0.2" textLength="24.00" lengthAdjust="spacingAndGlyphs" >Columns</text>
<rect x="914.00" y="496.70" width="73.80" height="20.00" fill="#233a5e" rx="1.5" />
<text x="919.60" y="507.60" font-size="6.4" fill="#fff" stroke="#fff" stroke-width="0.15" textLength="52.00" lengthAdjust="spacingAndGlyphs" >Columns: Type + 16</text>
<path d="M976.6 504.3 L978 505.7 L979.4 504.3" fill="none" stroke="#fff" stroke-width="0.9"/>
</g>
</svg></div></body></html>
